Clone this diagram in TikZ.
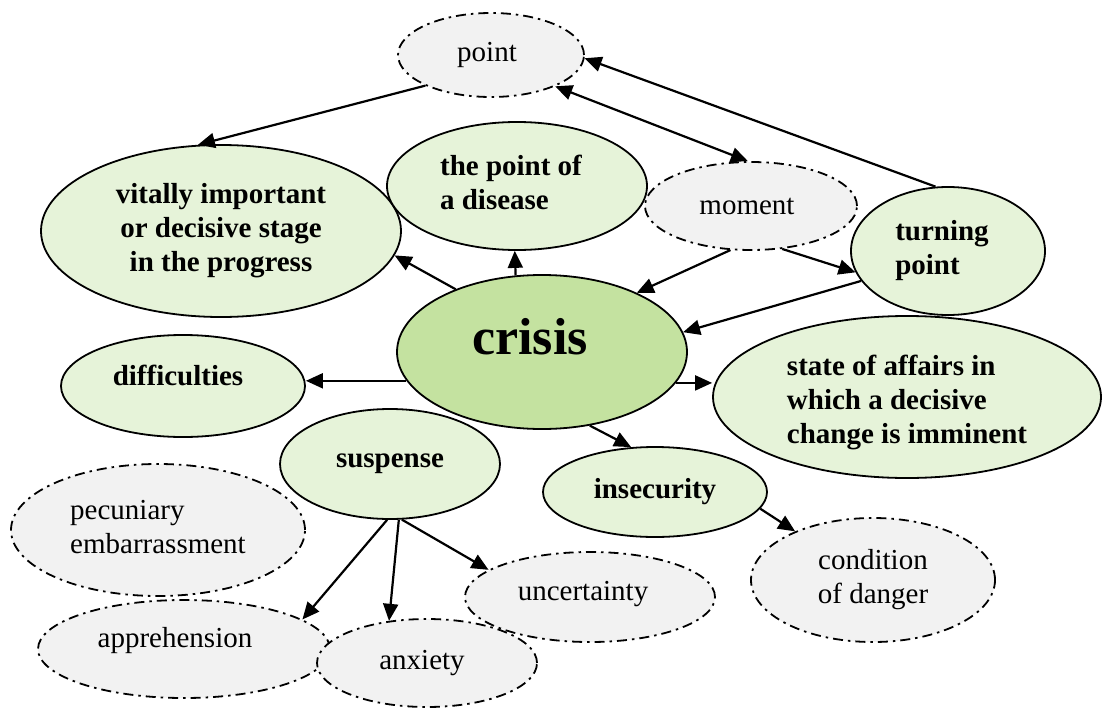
\documentclass[tikz,border=0pt]{standalone}
\usepackage{fontspec}
\setmainfont{Liberation Serif}
\usetikzlibrary{arrows.meta,shapes.geometric}

\definecolor{leafgreen}{HTML}{E6F3D9}
\definecolor{coregreen}{HTML}{C4E2A0}
\definecolor{mistgray}{HTML}{F2F2F2}

% move a label inside its bubble without changing the box size
\newcommand\shiftedtext[3]{\raisebox{#2}[\height][\depth]{\kern#1\relax#3\kern-#1\relax}}
% several lines of text in one box
\newcommand\textstack[2]{\begin{tabular}{@{}#1@{}}#2\end{tabular}}

\tikzset{
  bubble/.style={ellipse, inner sep=0pt, line width=1.8pt, draw=black,
                 font=\fontsize{29}{34}\selectfont},
  solidbubble/.style={bubble, fill=leafgreen, font=\fontsize{29}{34}\selectfont\bfseries},
  dashbubble/.style={bubble, fill=mistgray, dash pattern=on 10pt off 5pt on 2.5pt off 5pt},
  ewh/.style 2 args={minimum width=#1, minimum height=#2},
  link/.style={line width=2.2pt, -{Triangle[length=17pt,width=15pt]}},
  twolink/.style={line width=2.2pt, {Triangle[length=17pt,width=15pt]}-{Triangle[length=17pt,width=15pt]}},
}

\begin{document}
\begin{tikzpicture}[x=1pt, y=-1pt]
  \useasboundingbox (0,0) rectangle (1102,709);

  % upper ring
  \node[dashbubble, ewh={186pt}{84pt}] (point) at (491,55) {\shiftedtext{-4pt}{0pt}{point}};
  \node[solidbubble, ewh={360pt}{172pt}] (vital) at (221,231)
    {\textstack{c}{vitally important\\or decisive stage\\in the progress}};
  \node[solidbubble, ewh={260pt}{128pt}] (disease) at (517,186)
    {\shiftedtext{-6pt}{0pt}{\textstack{l}{the point of\\a disease}}};
  \node[dashbubble, ewh={212pt}{88pt}] (moment) at (751,206) {\shiftedtext{-4pt}{0pt}{moment}};
  \node[solidbubble, ewh={194pt}{128pt}] (turning) at (948,251)
    {\shiftedtext{-6pt}{0pt}{\textstack{l}{turning\\point}}};

  % centre
  \node[solidbubble, fill=coregreen, ewh={290pt}{154pt},
        font=\fontsize{52}{60}\selectfont\bfseries] (crisis) at (542,352)
    {\shiftedtext{-12pt}{15pt}{crisis}};

  % middle row
  \node[solidbubble, ewh={244pt}{102pt}] (difficulties) at (183,386)
    {\shiftedtext{-5pt}{11pt}{difficulties}};
  \node[solidbubble, ewh={388pt}{162pt}] (state) at (907,397)
    {\shiftedtext{0pt}{-6pt}{\textstack{l}{state of affairs in\\which a decisive\\change is imminent}}};
  \node[solidbubble, ewh={220pt}{110pt}] (suspense) at (390,464) {suspense};
  \node[solidbubble, ewh={224pt}{90pt}] (insecurity) at (655,492) {insecurity};

  % lower ring
  \node[dashbubble, ewh={294pt}{132pt}] (pecuniary) at (158,530)
    {\textstack{l}{pecuniary\\embarrassment}};
  \node[dashbubble, ewh={292pt}{98pt}] (apprehension) at (184,649)
    {\shiftedtext{-9pt}{8pt}{apprehension}};
  \node[dashbubble, ewh={220pt}{88pt}] (anxiety) at (427,663)
    {\shiftedtext{-5pt}{0pt}{anxiety}};
  \node[dashbubble, ewh={250pt}{90pt}] (uncertainty) at (590,597)
    {\shiftedtext{-7pt}{3pt}{uncertainty}};
  \node[dashbubble, ewh={244pt}{124pt}] (condition) at (873,580)
    {\textstack{c}{condition\\of danger}};

  % connectors
  \draw[link] (point.205) -- (vital.105);
  \draw[link] (turning.101) -- (point.358);
  \draw[twolink] (point.334) -- (moment.94);
  \draw[link] (crisis.144) -- (vital.352);
  \draw[link] (crisis.109) -- (disease.268);
  \draw[link] (moment.245) -- (crisis.32);
  \draw[link] (moment.306) -- (turning.193);
  \draw[link] (turning.199) -- (crisis.8);
  \draw[link] (crisis.192) -- (crisis.192 -| difficulties.east);
  \draw[link] (crisis.347) -- (crisis.347 -| state.west);
  \draw[link] (crisis.303) -- (insecurity.118);
  \draw[link] (insecurity.351) -- (condition.148);
  \draw[link] (suspense.267) -- (apprehension.14);
  \draw[link] (suspense.279) -- (anxiety.132);
  \draw[link] (suspense.282) -- (uncertainty.165);
\end{tikzpicture}
\end{document}
